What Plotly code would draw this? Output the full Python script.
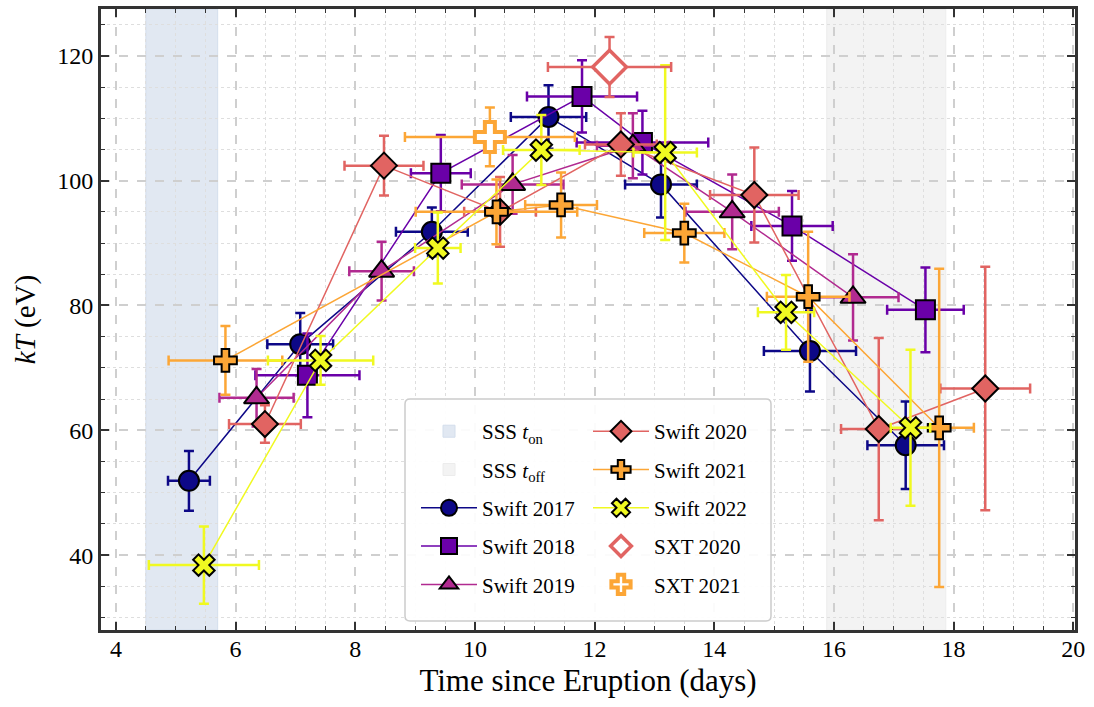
import plotly.graph_objects as go

# ---------------- data ----------------
sss_ton = [4.5, 5.7]
sss_toff = [15.88, 17.87]

swift2017_t = [5.22, 7.08, 9.28, 11.23, 13.11, 15.6, 17.2]
swift2017_terr = [0.35, 0.55, 0.6, 0.63, 0.6, 0.77, 0.64]
swift2017_kt = [51.9, 73.8, 91.8, 110.2, 99.4, 72.7, 57.6]
swift2017_kterr = [4.8, 5.0, 3.9, 5.1, 5.3, 6.5, 7.0]

swift2018_t = [7.2, 9.43, 11.79, 12.8, 15.3, 17.53]
swift2018_terr = [0.87, 0.5, 0.92, 1.1, 0.68, 0.64]
swift2018_kt = [68.8, 101.2, 113.5, 106.1, 92.75, 79.3]
swift2018_kterr = [6.7, 6.1, 5.8, 5.1, 5.6, 6.8]

swift2019_t = [6.35, 8.44, 10.63, 12.64, 14.3, 16.32]
swift2019_terr = [0.62, 0.54, 0.85, 0.6, 0.78, 0.76]
swift2019_kt = [65.2, 85.5, 99.4, 105.6, 95.0, 81.3]
swift2019_kterr = [4.6, 4.7, 4.7, 5.2, 6.0, 6.9]

swift2020_t = [6.49, 8.48, 10.42, 12.44, 14.67, 16.75, 18.53]
swift2020_terr = [0.6, 0.66, 0.6, 0.6, 0.74, 0.63, 0.75]
swift2020_kt = [61.0, 102.4, 95.0, 105.8, 97.7, 60.2, 66.7]
swift2020_kterr = [3.0, 4.8, 5.6, 5.0, 7.6, 14.6, 19.5]

swift2021_t = [5.83, 10.36, 11.44, 13.5, 15.57, 17.76]
swift2021_terr = [0.95, 1.35, 0.6, 0.67, 0.69, 0.58]
swift2021_kt = [71.2, 95.0, 96.1, 91.6, 81.4, 60.4]
swift2021_kterr = [5.5, 5.2, 5.2, 4.7, 10.4, 25.5]

swift2022_t = [5.47, 7.42, 9.38, 11.11, 13.18, 15.2, 17.28]
swift2022_terr = [0.92, 0.88, 0.38, 0.64, 0.53, 0.47, 0.33]
swift2022_kt = [38.4, 71.2, 89.2, 104.9, 104.5, 78.9, 60.4]
swift2022_kterr = [6.2, 3.9, 5.7, 5.6, 14.0, 6.0, 12.5]

sxt2020_t = [12.25]
sxt2020_terr = [1.03]
sxt2020_kt = [118.2]
sxt2020_kterr = [4.8]

sxt2021_t = [10.25]
sxt2021_terr = [1.42]
sxt2021_kt = [107.0]
sxt2021_kterr = [4.7]

# ---------------- styling ----------------
FONT = "Liberation Serif, Times New Roman, serif"
fig = go.Figure()

swift_series = [
    ("Swift 2017", swift2017_t, swift2017_terr, swift2017_kt, swift2017_kterr, "#0d0887", "circle", 20, "legend"),
    ("Swift 2018", swift2018_t, swift2018_terr, swift2018_kt, swift2018_kterr, "#6a00a8", "square", 19, "legend"),
    ("Swift 2019", swift2019_t, swift2019_terr, swift2019_kt, swift2019_kterr, "#b12a90", "triangle-up", 22, "legend"),
    ("Swift 2020", swift2020_t, swift2020_terr, swift2020_kt, swift2020_kterr, "#e16462", "diamond", 20, "legend2"),
    ("Swift 2021", swift2021_t, swift2021_terr, swift2021_kt, swift2021_kterr, "#fca636", "cross", 19, "legend2"),
    ("Swift 2022", swift2022_t, swift2022_terr, swift2022_kt, swift2022_kterr, "#f0f921", "x", 19, "legend2"),
]

for name, t, te, k, ke, col, sym, sz, leg in swift_series:
    fig.add_trace(go.Scatter(
        x=t, y=k, name=name, mode="lines+markers",
        line=dict(color=col, width=1.5),
        marker=dict(symbol=sym, size=sz, color=col, line=dict(color="black", width=2)),
        error_x=dict(type="data", array=te, color=col, thickness=2.5, width=5),
        error_y=dict(type="data", array=ke, color=col, thickness=2.5, width=5),
        legend=leg, legendgroup=name,
    ))

fig.add_trace(go.Scatter(
    x=sxt2020_t, y=sxt2020_kt, name="SXT 2020", mode="markers",
    marker=dict(symbol="diamond", size=26, color="white", line=dict(color="#e16462", width=3.5)),
    error_x=dict(type="data", array=sxt2020_terr, color="#e16462", thickness=2.5, width=5),
    error_y=dict(type="data", array=sxt2020_kterr, color="#e16462", thickness=2.5, width=5),
    legend="legend2", legendgroup="SXT 2020",
))
fig.add_trace(go.Scatter(
    x=sxt2021_t, y=sxt2021_kt, name="SXT 2021", mode="markers",
    marker=dict(symbol="cross", size=25, color="white", line=dict(color="#fca636", width=4)),
    error_x=dict(type="data", array=sxt2021_terr, color="#fca636", thickness=2.5, width=5),
    error_y=dict(type="data", array=sxt2021_kterr, color="#fca636", thickness=2.5, width=5),
    legend="legend2", legendgroup="SXT 2021",
))

# shaded SSS regions
fig.add_shape(type="rect", xref="x", yref="paper", x0=sss_ton[0], x1=sss_ton[1], y0=0, y1=1,
              fillcolor="#e1e8f2", line=dict(color="#d3deec", width=1), layer="below",
              showlegend=True, name="SSS <i>t</i><sub>on</sub>", legend="legend",
              legendgroup="ton", legendrank=1)
fig.add_shape(type="rect", xref="x", yref="paper", x0=sss_toff[0], x1=sss_toff[1], y0=0, y1=1,
              fillcolor="#f3f3f3", line=dict(color="#ececec", width=1), layer="below",
              showlegend=True, name="SSS <i>t</i><sub>off</sub>", legend="legend",
              legendgroup="toff", legendrank=2)

# legend frame (paper coords)
PL, PR, PT, PB = 101, 1075, 6, 630
def px2paper(px, py):
    return (px - PL) / (PR - PL), (PB - py) / (PB - PT)
x0, y1 = px2paper(405, 398)
x1, y0 = px2paper(771, 621)
rx, ry = 5 / (PR - PL), 5 / (PB - PT)
path = (f"M{x0+rx},{y0} L{x1-rx},{y0} Q{x1},{y0} {x1},{y0+ry} L{x1},{y1-ry} Q{x1},{y1} {x1-rx},{y1} "
        f"L{x0+rx},{y1} Q{x0},{y1} {x0},{y1-ry} L{x0},{y0+ry} Q{x0},{y0} {x0+rx},{y0} Z")
fig.add_shape(type="path", xref="paper", yref="paper", path=path,
              fillcolor="rgba(255,255,255,0.92)", line=dict(color="#cccccc", width=1.5), layer="above")

axis_common = dict(
    showline=True, linecolor="#333333", linewidth=3, mirror="allticks",
    ticks="inside", ticklen=8, tickwidth=1.5, tickcolor="#333333",
    showgrid=True, gridcolor="#cfcfcf", gridwidth=2, griddash="dash",
    zeroline=False,
    tickfont=dict(family=FONT, size=24, color="black"),
)

fig.update_xaxes(
    range=[3.75, 20.03], dtick=2, tick0=0, ticklabelstandoff=-5,
    minor=dict(dtick=0.5, ticks="inside", ticklen=4, tickcolor="#333333", tickwidth=1.2,
               showgrid=True, gridcolor="#dedede", griddash="dot", gridwidth=1),
    title=dict(text="Time since Eruption (days)", font=dict(family=FONT, size=31, color="black"), standoff=9),
    **axis_common,
)
fig.update_yaxes(
    range=[28.0, 127.5], dtick=20, tick0=0,
    minor=dict(dtick=5, ticks="inside", ticklen=4, tickcolor="#333333", tickwidth=1.2,
               showgrid=True, gridcolor="#dedede", griddash="dot", gridwidth=1),
    title=dict(text="<i>kT</i> (eV)", font=dict(family=FONT, size=29, color="black"), standoff=14),
    **axis_common,
)

legend_common = dict(
    bgcolor="rgba(0,0,0,0)", borderwidth=0, yanchor="top", xanchor="left",
    font=dict(family=FONT, size=21, color="black"), tracegroupgap=8, traceorder="grouped",
    itemwidth=56,
)
fig.update_layout(
    width=1094, height=707,
    margin=dict(l=PL, r=1094 - PR, t=PT, b=707 - PB),
    paper_bgcolor="white", plot_bgcolor="white",
    legend=dict(x=px2paper(416, 0)[0], y=px2paper(0, 410)[1], **legend_common),
    legend2=dict(x=px2paper(588, 0)[0], y=px2paper(0, 410)[1], **legend_common),
    showlegend=True,
)

fig.write_html("out.html")
